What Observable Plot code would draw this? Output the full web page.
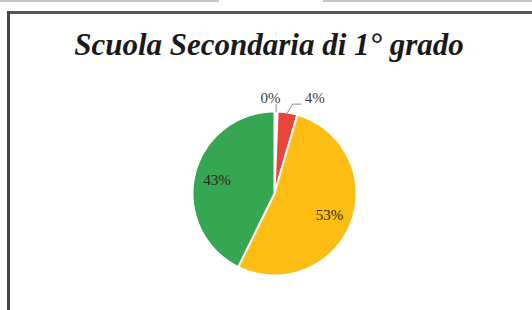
<!DOCTYPE html>
<html>
<head>
<meta charset="utf-8">
<script src="https://cdn.jsdelivr.net/npm/d3@7"></script>
<script src="https://cdn.jsdelivr.net/npm/@observablehq/plot@0.6"></script>
<style>
  html, body { margin: 0; padding: 0; background: #fff; }
  #wrap { position: relative; width: 532px; height: 310px; overflow: hidden; background: #fff; }
  #wrap svg { position: absolute; left: 0; top: 0; }
  .rule { position: absolute; }
  #title { position: absolute; left: 0; width: 538px; top: 29px; text-align: center;
           font-family: "Liberation Serif", "Times New Roman", serif; font-style: italic; font-weight: bold;
           font-size: 31px; color: #1a1a1a; line-height: 1; }
</style>
</head>
<body>
<div id="wrap">
  <div class="rule" style="left:0;top:0;width:219px;height:2px;background:#c8c8c8"></div>
  <div class="rule" style="left:323px;top:0;width:209px;height:2px;background:#c8c8c8"></div>
  <div class="rule" style="left:7px;top:11px;width:525px;height:3px;background:#555"></div>
  <div class="rule" style="left:7px;top:11px;width:3px;height:299px;background:#444"></div>
  <div id="title">Scuola Secondaria di 1° grado</div>
</div>
<script>
const categories = ["Categoria A", "Categoria B", "Categoria C", "Categoria D"];
const values = [0.6, 3.9, 52.8, 42.7];
const labels = ["0%", "4%", "53%", "43%"];
const colors = ["#f2f2f2", "#e8463a", "#fdbd12", "#35a752"];

const pie = d3.pie().sort(null).value(d => d.value)(
  categories.map((c, i) => ({category: c, value: values[i], label: labels[i]}))
);

// polygon points for each slice (angles clockwise from 12 o'clock)
const pts = [];
pie.forEach(s => {
  const c = s.data.category;
  pts.push({category: c, x: 0, y: 0});
  const n = Math.max(2, Math.ceil((s.endAngle - s.startAngle) / 0.01));
  for (let k = 0; k <= n; k++) {
    const a = s.startAngle + (s.endAngle - s.startAngle) * k / n;
    pts.push({category: c, x: Math.sin(a), y: Math.cos(a)});
  }
  pts.push({category: c, x: 0, y: 0});
});

const mid = s => (s.startAngle + s.endAngle) / 2;
const inside = pie.filter(s => s.data.value >= 10).map(s => ({
  label: s.data.label, x: 0.72 * Math.sin(mid(s)), y: 0.72 * Math.cos(mid(s))
}));
const smalls = pie.filter(s => s.data.value < 10);
const outside = [
  {label: smalls[0].data.label, x: -0.05, y: 1.16},
  {label: smalls[1].data.label, x: 0.49, y: 1.16}
];
const leaders = [
  {k: 0, x: 1.0 * Math.sin(mid(smalls[0])), y: 1.0 * Math.cos(mid(smalls[0]))},
  {k: 0, x: 0.02, y: 1.09},
  {k: 1, x: 1.0 * Math.sin(mid(smalls[1])), y: 1.0 * Math.cos(mid(smalls[1]))},
  {k: 1, x: 0.22, y: 1.09},
  {k: 1, x: 0.32, y: 1.09}
];

const cx = 274, cy = 193, r = 82;
const chart = Plot.plot({
  width: 532,
  height: 310,
  margin: 0,
  x: {domain: [-1, 1], range: [cx - r, cx + r], axis: null},
  y: {domain: [-1, 1], range: [cy + r, cy - r], axis: null},
  color: {domain: categories, range: colors},
  style: {background: "transparent", fontFamily: "Liberation Serif, Times New Roman, serif"},
  marks: [
    Plot.line(pts, {x: "x", y: "y", z: "category", fill: "category", stroke: "#fff", strokeWidth: 2, curve: "linear"}),
    Plot.line(leaders, {x: "x", y: "y", z: "k", stroke: "#8c8c8c", strokeWidth: 1}),
    Plot.text(inside, {x: "x", y: "y", text: "label", fontSize: 15, fill: "#2a2a1a"}),
    Plot.text(outside, {x: "x", y: "y", text: "label", fontSize: 15, fill: "#404040"})
  ]
});
document.getElementById("wrap").insertBefore(chart, document.getElementById("wrap").firstChild);
</script>
</body>
</html>
